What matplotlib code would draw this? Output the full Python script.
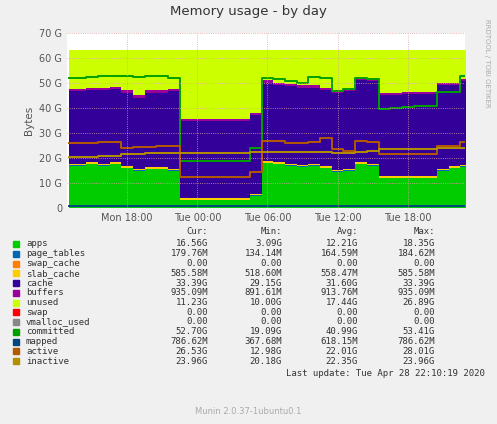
import matplotlib
matplotlib.use("Agg")
import matplotlib.pyplot as plt
import numpy as np

# hours since Mon 00:00
hours = list(range(13, 48))
apps = [17, 17, 17.5, 17, 17.5, 16, 15, 15.5, 15.5, 15,
        3.1, 3.1, 3.1, 3.1, 3.1, 3.1,
        5, 18, 17.5, 17, 16.5, 17, 16, 14.5, 15, 17.5, 17, 12, 12, 12, 12, 12, 15, 16, 16.5]
page_tables = [0.18] * 35
swap_cache = [0.0] * 35
slab_cache = [0.55] * 35
cache = [28.9, 28.9, 28.9, 29.4, 29.4, 29.4, 28.4, 29.9, 29.9, 30.9,
         30.8, 30.8, 30.8, 30.8, 30.8, 30.8,
         31.4, 31.4, 30.9, 30.9, 30.9, 30.4, 30.4, 30.9, 30.9, 32.9, 32.9, 32.4, 32.4, 32.9, 32.9, 32.9, 33.4, 32.4, 33.4]
buffers = [0.9] * 35
unused = [15.5, 15.5, 15, 15, 14.5, 16, 18, 16, 16, 15.5,
          27.5, 27.5, 27.5, 27.5, 27.5, 27.5,
          25, 12, 13, 13.5, 14, 14, 15, 16, 15.5, 11, 11.5, 17, 17, 16.5, 16.5, 16.5, 13, 13, 11.5]
committed = [52, 52, 52.5, 53, 53, 53, 52.5, 53, 53, 52,
             19, 19, 19, 19, 19, 19,
             24, 52, 51.5, 51, 50, 52.5, 52, 47, 47.5, 52, 51.5, 39.5, 40, 40.5, 41, 41, 46.5, 46.5, 52.7]
mapped = [0.79] * 35
active = [26, 26, 26, 26.5, 26.5, 24, 24.5, 24.5, 25, 25,
          12.5, 12.5, 12.5, 12.5, 12.5, 12.5,
          14.5, 27, 27, 26, 26, 26.5, 28, 23.5, 23, 27, 26.5, 21.5, 21.5, 21.5, 21.5, 21.5, 25, 25, 26.5]
inactive = [20.5, 20.5, 20.5, 21, 21, 21.5, 21.5, 22, 22, 22,
            22, 22, 22, 22, 22, 22,
            22.5, 22.5, 22.5, 22.5, 22.5, 22.5, 22.5, 22, 22, 22.5, 23, 23.5, 23.5, 23.5, 23.5, 23.5, 24, 24, 24]

legend_rows = [
    ("apps", "#00CC00", "16.56G", "3.09G", "12.21G", "18.35G"),
    ("page_tables", "#0066B3", "179.76M", "134.14M", "164.59M", "184.62M"),
    ("swap_cache", "#FF8000", "0.00", "0.00", "0.00", "0.00"),
    ("slab_cache", "#FFCC00", "585.58M", "518.60M", "558.47M", "585.58M"),
    ("cache", "#330099", "33.39G", "29.15G", "31.60G", "33.39G"),
    ("buffers", "#990099", "935.09M", "891.61M", "913.76M", "935.09M"),
    ("unused", "#CCFF00", "11.23G", "10.00G", "17.44G", "26.89G"),
    ("swap", "#FF0000", "0.00", "0.00", "0.00", "0.00"),
    ("vmalloc_used", "#888888", "0.00", "0.00", "0.00", "0.00"),
    ("committed", "#00A000", "52.70G", "19.09G", "40.99G", "53.41G"),
    ("mapped", "#00487D", "786.62M", "367.68M", "618.15M", "786.62M"),
    ("active", "#B35A00", "26.53G", "12.98G", "22.01G", "28.01G"),
    ("inactive", "#B38F00", "23.96G", "20.18G", "22.35G", "23.96G"),
]
colors = {r[0]: r[1] for r in legend_rows}

fig = plt.figure(figsize=(4.97, 4.24), dpi=100, facecolor="#F0F0F0")
ax = fig.add_axes([67 / 497, (424 - 208) / 424, 398 / 497, 175 / 424])
ax.set_facecolor("white")

x = np.array(hours, dtype=float)
stack = [("apps", apps), ("page_tables", page_tables), ("swap_cache", swap_cache),
         ("slab_cache", slab_cache), ("cache", cache), ("buffers", buffers), ("unused", unused)]
base = np.zeros(len(x))
for name, vals in stack:
    v = np.array(vals)
    ax.fill_between(x, base, base + v, step="mid", color=colors[name], lw=0)
    base = base + v
for name, vals in [("committed", committed), ("mapped", mapped), ("active", active), ("inactive", inactive)]:
    ax.step(x, vals, where="mid", color=colors[name], lw=1.4)

ax.set_xlim(12.85, 46.9)
ax.set_ylim(0, 70)
ax.set_yticks(range(0, 71, 10))
ax.set_yticklabels(["0"] + [f"{v} G" for v in range(10, 71, 10)])
ax.set_xticks([18, 24, 30, 36, 42])
ax.set_xticklabels(["Mon 18:00", "Tue 00:00", "Tue 06:00", "Tue 12:00", "Tue 18:00"])
ax.grid(True, color="#E0A0A0", ls=":", lw=0.6)
ax.set_axisbelow(False)
ax.tick_params(labelsize=7, colors="#555555", length=0)
for s in ax.spines.values():
    s.set_visible(False)
ax.set_ylabel("Bytes", fontsize=7.5, color="#555555")

fig.text(0.5, 1 - 12 / 424, "Memory usage - by day", ha="center", va="center", fontsize=9.5, color="#333333")
fig.text(487 / 497, 0.85, "RRDTOOL / TOBI OETIKER", rotation=270, ha="center", va="center", fontsize=5, color="#AAAAAA")

fs = 6.5
def ypos(py):
    return 1 - py / 424
cols = [(208, "Cur:"), (282, "Min:"), (358, "Avg:"), (435, "Max:")]
for cx, t in cols:
    fig.text(cx / 497, ypos(232), t, ha="right", va="center", fontsize=fs, family="DejaVu Sans Mono", color="#333333")
for i, (name, c, cur, mn, av, mx) in enumerate(legend_rows):
    py = 244 + i * 9.75
    fig.patches.append(plt.Rectangle((13 / 497, ypos(py) - 3 / 424), 6 / 497, 6 / 424,
                                     transform=fig.transFigure, color=c, figure=fig))
    fig.text(26 / 497, ypos(py), name, ha="left", va="center", fontsize=fs, family="DejaVu Sans Mono", color="#333333")
    for (cx, _), v in zip(cols, (cur, mn, av, mx)):
        fig.text(cx / 497, ypos(py), v, ha="right", va="center", fontsize=fs, family="DejaVu Sans Mono", color="#333333")
fig.text(485 / 497, ypos(373), "Last update: Tue Apr 28 22:10:19 2020", ha="right", va="center",
         fontsize=fs, family="DejaVu Sans Mono", color="#333333")
fig.text(0.5, ypos(412), "Munin 2.0.37-1ubuntu0.1", ha="center", va="center", fontsize=6, color="#AAAAAA")

fig.savefig("out.png", dpi=100, facecolor=fig.get_facecolor())
